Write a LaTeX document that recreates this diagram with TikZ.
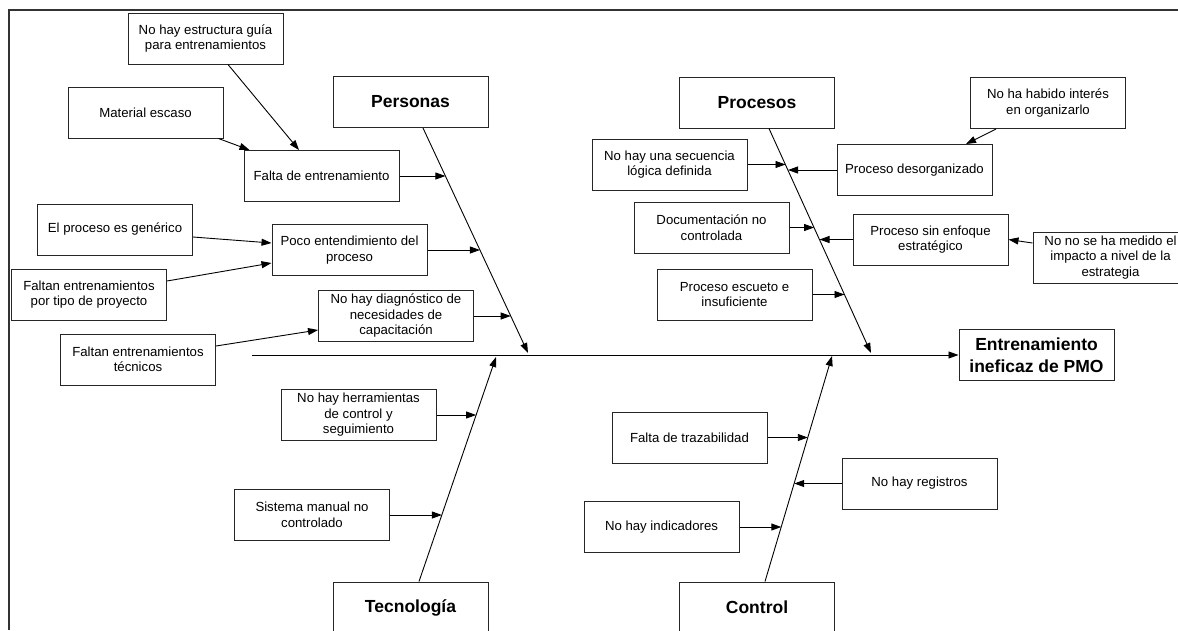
\documentclass[tikz,border=0pt]{standalone}
\usepackage{fontspec}
\setmainfont{Liberation Sans}
\usetikzlibrary{arrows.meta}
\begin{document}
\begin{tikzpicture}[x=1pt,y=-1pt,
  cbox/.style={draw=black!85,line width=1pt,minimum width=155pt,minimum height=51pt,inner sep=0pt,align=center,font=\fontsize{13.2}{15.5}\selectfont},
  tbox/.style={cbox,font=\fontsize{17.5}{22}\selectfont\bfseries},
  arr/.style={line width=0.9pt,-{Triangle[length=10pt,width=7pt]}},
  spine/.style={line width=0.9pt}]
\useasboundingbox (0,0) rectangle (1178,630);
\fill[white] (0,0) rectangle (1178,630);
\draw[line width=2pt,black!80] (9,630) -- (9,10) -- (1178,10);

% Personas branch
\node[cbox] (est) at (205.5,38.5) {No hay estructura guía\\para entrenamientos};
\node[cbox] (mat) at (145.5,112.5) {Material escaso};
\node[tbox] (per) at (410.5,102) {Personas};
\node[cbox] (fal) at (321.5,176) {Falta de entrenamiento};
\node[cbox] (gen) at (115,229.5) {El proceso es genérico};
\node[cbox] (poco) at (349.5,250) {Poco entendimiento del\\proceso};
\node[cbox] (tipo) at (89,294.5) {Faltan entrenamientos\\por tipo de proyecto};
\node[cbox] (diag) at (396,316) {No hay diagnóstico de\\necesidades de\\capacitación};
\node[cbox] (tec1) at (138,359.5) {Faltan entrenamientos\\técnicos};

% Effect
\node[tbox] (eff) at (1036.5,355) {Entrenamiento\\ineficaz de PMO};

% Tecnologia branch
\node[cbox] (herr) at (358.5,415) {No hay herramientas\\de control y\\seguimiento};
\node[cbox] (sis) at (312,515) {Sistema manual no\\controlado};
\node[tbox] (tecno) at (410.5,607.5) {Tecnología};

% Procesos branch
\node[tbox] (proc) at (757,102.5) {Procesos};
\node[cbox] (int) at (1048,103) {No ha habido interés\\en organizarlo};
\node[cbox] (sec) at (669.5,164.5) {No hay una secuencia\\lógica definida};
\node[cbox] (des) at (914.5,170) {Proceso desorganizado};
\node[cbox] (doc) at (711.5,227.5) {Documentación no\\controlada};
\node[cbox] (enf) at (930.5,239.5) {Proceso sin enfoque\\estratégico};
\node[cbox] (med) at (1110.5,257.5) {No no se ha medido el\\impacto a nivel de la\\estrategia};
\node[cbox] (esc) at (734.5,294.5) {Proceso escueto e\\insuficiente};

% Control branch
\node[cbox] (traz) at (689.5,437.5) {Falta de trazabilidad};
\node[cbox] (reg) at (919.5,483.5) {No hay registros};
\node[cbox] (ind) at (661.5,527) {No hay indicadores};
\node[tbox] (ctrl) at (757,607.5) {Control};

% spine tips and main line start
\coordinate (ptip) at (528,353);
\coordinate (rtip) at (871,353);
\coordinate (ttip) at (496,357);
\coordinate (ctip) at (832,356);
\coordinate (mstart) at (252,355);

% main line
\draw[arr] (mstart) -- (eff.west);

% spines
\draw[arr] ([xshift=12.5pt]per.south) -- (ptip);
\draw[arr] ([xshift=12pt]proc.south) -- (rtip);
\draw[arr] ([xshift=8.5pt]tecno.north) -- (ttip);
\draw[arr] ([xshift=8pt]ctrl.north) -- (ctip);

% points on spines
\coordinate (c-fal) at (445.4,176);
\coordinate (c-poco) at (479.9,250);
\coordinate (c-diag) at (510.7,316);
\coordinate (c-sec) at (785.5,164.5);
\coordinate (c-des) at (788.0,170);
\coordinate (c-doc) at (814.1,227.5);
\coordinate (c-enf) at (819.5,239.5);
\coordinate (c-esc) at (844.5,294.5);
\coordinate (c-herr) at (476.1,415);
\coordinate (c-sis) at (441.9,515);
\coordinate (c-traz) at (807.8,437.5);
\coordinate (c-reg) at (794.2,483.5);
\coordinate (c-ind) at (781.3,527);

% branch arrows
\draw[arr] (fal.east) -- (c-fal);
\draw[arr] (poco.east) -- (c-poco);
\draw[arr] (diag.east) -- (c-diag);
\draw[arr] (sec.east) -- (c-sec);
\draw[arr] (des.west) -- (c-des);
\draw[arr] (doc.east) -- (c-doc);
\draw[arr] (enf.west) -- (c-enf);
\draw[arr] (esc.east) -- (c-esc);
\draw[arr] (herr.east) -- (c-herr);
\draw[arr] (sis.east) -- (c-sis);
\draw[arr] (traz.east) -- (c-traz);
\draw[arr] (reg.west) -- (c-reg);
\draw[arr] (ind.east) -- (c-ind);

% sub-cause arrows
\draw[arr] ([xshift=22.5pt]est.south) -- ([xshift=-22.5pt]fal.north);
\draw[arr] ([xshift=-5pt]mat.south east) -- ([xshift=6pt]fal.north west);
\draw[arr] ([yshift=-7.5pt]gen.east) -- ([yshift=7pt]poco.west);
\draw[arr] ([yshift=13.5pt]tipo.east) -- ([yshift=-13pt]poco.west);
\draw[arr] ([yshift=13.5pt]tec1.east) -- ([yshift=-14pt]diag.west);
\draw[arr] ([xshift=-52pt]int.south) -- ([xshift=51.5pt]des.north);
\draw[arr] ([yshift=14.5pt]med.west) -- (enf.east);
\end{tikzpicture}
\end{document}
